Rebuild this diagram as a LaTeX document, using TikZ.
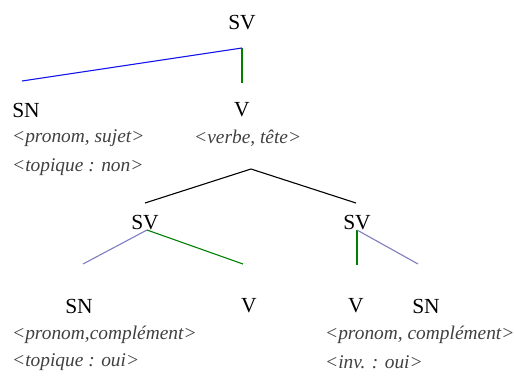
\documentclass[tikz,border=0pt]{standalone}
\usepackage{fontspec}
\setmainfont{Liberation Serif}
\definecolor{lblue}{RGB}{20,20,240}
\definecolor{lgreen}{RGB}{0,128,0}
\definecolor{lgray}{RGB}{125,125,190}
\begin{document}
\begin{tikzpicture}[x=1pt,y=-1pt,
  cat/.style={inner sep=0pt,font=\fontsize{21.5}{23}\selectfont},
  feat/.style={inner sep=0pt,anchor=west,text=black!75,font=\fontsize{19.4}{21}\selectfont\itshape},
  edge/.style={line width=1.1pt}]
\useasboundingbox (0,0) rectangle (514,376);
% categories
\node[cat] (sv0) at (242,23) {SV};
\node[cat] (sn1) at (26,110) {SN};
\node[cat] (v1) at (242,110) {V};
\node[cat] (sv1) at (145,223) {SV};
\node[cat] (sv2) at (357,223) {SV};
\node[cat] (sn2) at (79,306) {SN};
\node[cat] (v2) at (249,306) {V};
\node[cat] (v3) at (356,306) {V};
\node[cat] (sn3) at (426,306) {SN};
% features
\node[feat] (f1) at (12,138) {<pronom, sujet>};
\node[feat] (f2) at (12,167) {<topique : non>};
\node[feat] (f3) at (194,138) {<verbe, tête>};
\node[feat] (f4) at (12,335) {<pronom,complément>};
\node[feat] (f5) at (12,362) {<topique : oui>};
\node[feat] (f6) at (325,335) {<pronom, complément>};
\node[feat] (f7) at (325,362) {<inv. : oui>};
% attachment points
\coordinate (a0) at (242,48);
\coordinate (e1) at (22,81);
\coordinate (e2) at (242,83);
\coordinate (a1) at (251,169);
\coordinate (e3) at (145,203);
\coordinate (e4) at (356,203);
\coordinate (a2) at (147,230);
\coordinate (e5) at (83,264);
\coordinate (e6) at (243,264);
\coordinate (a3) at (357,230);
\coordinate (e7) at (357,265);
\coordinate (e8) at (418,264);
% edges
\draw[edge,lblue] (a0) -- (e1);
\draw[edge,lgreen] (a0) -- (e2);
\draw[edge,black] (e3) -- (a1) -- (e4);
\draw[edge,lgray] (a2) -- (e5);
\draw[edge,lgreen] (a2) -- (e6);
\draw[edge,lgreen] (a3) -- (e7);
\draw[edge,lgray] (a3) -- (e8);
\end{tikzpicture}
\end{document}
